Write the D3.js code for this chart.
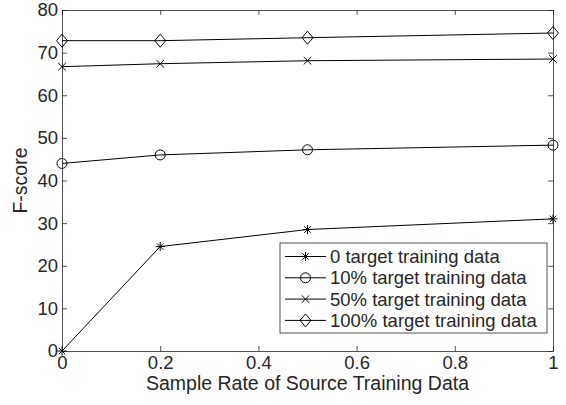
<!DOCTYPE html>
<html>
<head>
<meta charset="utf-8">
<script src="https://cdn.jsdelivr.net/npm/d3@7"></script>
<style>
  body { margin: 0; background: #fff; }
  text { font-family: "Liberation Sans", Arial, sans-serif; fill: #262626; }
</style>
</head>
<body>
<svg width="566" height="405"></svg>
<script>
var rates = [0, 0.2, 0.5, 1];
var seriesNames = ['0 target training data', '10% target training data', '50% target training data', '100% target training data'];
var target0 = [0, 24.5, 28.5, 31];
var target10 = [44, 46, 47.2, 48.3];
var target50 = [66.7, 67.4, 68.1, 68.5];
var target100 = [72.8, 72.8, 73.5, 74.6];
var markers = ['star', 'circle', 'cross', 'diamond'];
var xTicks = [0, 0.2, 0.4, 0.6, 0.8, 1];
var yTicks = [0, 10, 20, 30, 40, 50, 60, 70, 80];

var series = [target0, target10, target50, target100].map(function(v, i){
  return { name: seriesNames[i], marker: markers[i], values: v };
});

var svg = d3.select('svg');
var plotLeft = 62, plotRight = 553, plotTop = 10, plotBottom = 351;

var x = d3.scaleLinear().domain([0, 1]).range([plotLeft, plotRight]);
var y = d3.scaleLinear().domain([0, 80]).range([plotBottom, plotTop]);

// axes, ticks inward on all four sides
var axisColor = '#262626';
function styleAxis(g){
  g.attr('font-size', null).attr('font-family', null);
  g.select('.domain').attr('stroke', axisColor).attr('stroke-width', 0.8).attr('fill', 'none');
  g.selectAll('.tick line').attr('stroke', axisColor).attr('stroke-width', 0.8);
  g.selectAll('.tick text').style('font-size', '18.5px').attr('fill', axisColor);
}

svg.append('g').attr('transform', 'translate(0,' + plotBottom + ')')
  .call(d3.axisBottom(x).tickValues(xTicks).tickFormat(d3.format('')).tickSizeInner(-5).tickSizeOuter(0).tickPadding(5))
  .call(styleAxis);
svg.append('g').attr('transform', 'translate(0,' + plotTop + ')')
  .call(d3.axisTop(x).tickValues(xTicks).tickFormat('').tickSizeInner(-5).tickSizeOuter(0))
  .call(styleAxis);
svg.append('g').attr('transform', 'translate(' + plotLeft + ',0)')
  .call(d3.axisLeft(y).tickValues(yTicks).tickSizeInner(-5).tickSizeOuter(0).tickPadding(4))
  .call(styleAxis);
svg.append('g').attr('transform', 'translate(' + plotRight + ',0)')
  .call(d3.axisRight(y).tickValues(yTicks).tickFormat('').tickSizeInner(-5).tickSizeOuter(0))
  .call(styleAxis);

// axis labels
svg.append('text').attr('x', (plotLeft + plotRight) / 2).attr('y', 390)
  .attr('text-anchor', 'middle').style('font-size', '19.5px')
  .text('Sample Rate of Source Training Data');
svg.append('text').attr('transform', 'translate(27,' + ((plotTop + plotBottom) / 2) + ') rotate(-90)')
  .attr('text-anchor', 'middle').style('font-size', '19.5px')
  .text('F-score');

// marker drawing
function drawMarker(g, type, cx, cy){
  if (type === 'circle') {
    g.append('circle').attr('cx', cx).attr('cy', cy).attr('r', 5)
      .attr('fill', 'none').attr('stroke', '#000').attr('stroke-width', 1);
  } else if (type === 'diamond') {
    g.append('path').attr('d', 'M' + cx + ',' + (cy - 6.5) + 'L' + (cx + 5.5) + ',' + cy + 'L' + cx + ',' + (cy + 6.5) + 'L' + (cx - 5.5) + ',' + cy + 'Z')
      .attr('fill', 'none').attr('stroke', '#000').attr('stroke-width', 1);
  } else if (type === 'cross') {
    var c = 3.8;
    g.append('path').attr('d', 'M' + (cx - c) + ',' + (cy - c) + 'L' + (cx + c) + ',' + (cy + c) + 'M' + (cx - c) + ',' + (cy + c) + 'L' + (cx + c) + ',' + (cy - c))
      .attr('stroke', '#000').attr('stroke-width', 1);
  } else if (type === 'star') {
    var a = 4.5, b = 3.2;
    g.append('path').attr('d', 'M' + cx + ',' + (cy - a) + 'L' + cx + ',' + (cy + a) +
        'M' + (cx - a) + ',' + cy + 'L' + (cx + a) + ',' + cy +
        'M' + (cx - b) + ',' + (cy - b) + 'L' + (cx + b) + ',' + (cy + b) +
        'M' + (cx - b) + ',' + (cy + b) + 'L' + (cx + b) + ',' + (cy - b))
      .attr('stroke', '#000').attr('stroke-width', 1);
  }
}

var line = d3.line().x(function(d, i){ return x(rates[i]); }).y(function(d){ return y(d); });

series.forEach(function(s){
  svg.append('path').datum(s.values).attr('d', line)
    .attr('fill', 'none').attr('stroke', '#000').attr('stroke-width', 1);
  var g = svg.append('g');
  s.values.forEach(function(v, i){ drawMarker(g, s.marker, x(rates[i]), y(v)); });
});

// legend
var lg = svg.append('g');
lg.append('rect').attr('x', 280).attr('y', 243).attr('width', 267).attr('height', 90)
  .attr('fill', '#fff').attr('stroke', axisColor).attr('stroke-width', 0.8);
series.forEach(function(s, i){
  var ry = 256.5 + i * 21.3;
  lg.append('line').attr('x1', 285).attr('x2', 326).attr('y1', ry).attr('y2', ry)
    .attr('stroke', '#000').attr('stroke-width', 1);
  drawMarker(lg, s.marker, 305.5, ry);
  lg.append('text').attr('x', 330).attr('y', ry).attr('dy', '0.36em')
    .style('font-size', '18.5px').text(s.name);
});
</script>
</body>
</html>
